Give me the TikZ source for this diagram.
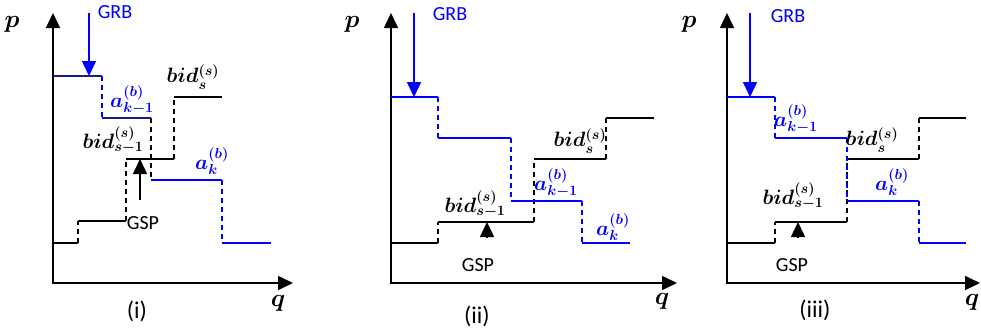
\documentclass[tikz,border=0pt]{standalone}
\usepackage{fontspec}
\newfontfamily\carl{Carlito}
\usetikzlibrary{arrows.meta}
\definecolor{navyb}{RGB}{25,25,150}
\begin{document}
\begin{tikzpicture}[x=1pt,y=-1pt,
  axes/.style={line width=1.6pt,{Triangle[length=15pt,width=14pt]}-{Triangle[length=15pt,width=14pt]}},
  garrow/.style={line width=1.5pt,-{Triangle[length=15pt,width=14pt]}},
  sl/.style={line width=1.5pt},
  dl/.style={line width=1.5pt,dash pattern=on 5pt off 4pt},
  lbl/.style={font=\boldmath\fontsize{21}{23}\selectfont,inner sep=0pt},
  axl/.style={font=\boldmath\fontsize{28}{30}\selectfont,inner sep=0pt},
  txt/.style={font=\carl\fontsize{20}{23}\selectfont,inner sep=0pt},
  captxt/.style={font=\carl\fontsize{24}{28}\selectfont,inner sep=0pt}]
\useasboundingbox (0,0) rectangle (981,333);

% ---------- panel (i) ----------
\draw[axes] (53,13) -- (53,283) -- (293,283);
\node[axl] (p1) at (12,24) {$p$};
\node[axl] (q1) at (278,303) {$q$};
\node[captxt] (c1) at (137,311) {(i)};
\node[txt,blue] (grb1) at (115,12) {GRB};
\node[txt] (gsp1) at (143,223) {GSP};
% black supply steps
\draw[sl] (53,243) -- (78,243);
\draw[dl] (78,243) -- (78,221);
\draw[sl] (78,221) -- (126,221);
\draw[dl] (126,221) -- (126,159);
\draw[sl] (126,159) -- (174,159);
\draw[dl] (174,159) -- (174,97);
\draw[sl] (174,97) -- (222,97);
% blue demand steps
\draw[sl,navyb] (53,76) -- (102,76);
\draw[dl,blue] (102,76) -- (102,118);
\draw[sl,navyb] (102,118) -- (151,118);
\draw[dl] (151,118) -- (151,180);
\draw[sl,blue] (151,180) -- (222,180);
\draw[dl,blue] (222,180) -- (222,243);
\draw[sl,blue] (222,243) -- (271,243);
\draw[garrow,blue] (89,13) -- (89,76);
\draw[garrow] (140,200) -- (140,159);
\node[lbl] (bs1) at (193,77) {$bid^{(s)}_{s}$};
\node[lbl,blue] (ak11) at (132,100) {$a^{(b)}_{k-1}$};
\node[lbl] (bs11) at (113,140) {$bid^{(s)}_{s-1}$};
\node[lbl,blue] (ak1) at (212,161) {$a^{(b)}_{k}$};

% ---------- panel (ii) ----------
\draw[axes] (391,13) -- (391,283) -- (677,283);
\node[axl] (p2) at (352,24) {$p$};
\node[axl] (q2) at (662,301) {$q$};
\node[captxt] (c2) at (477,316) {(ii)};
\node[txt,blue] (grb2) at (450,14) {GRB};
\node[txt] (gsp2) at (478,265) {GSP};
\draw[sl] (391,243) -- (438,243);
\draw[dl] (438,243) -- (438,222);
\draw[sl] (438,222) -- (534,222);
\draw[dl] (534,222) -- (534,159);
\draw[sl] (534,159) -- (606,159);
\draw[dl] (606,159) -- (606,118);
\draw[sl] (606,118) -- (654,118);
\draw[sl,blue] (391,97) -- (438,97);
\draw[dl,blue] (438,97) -- (438,138);
\draw[sl,blue] (438,138) -- (511,138);
\draw[dl,blue] (511,138) -- (511,201);
\draw[sl,blue] (511,201) -- (582,201);
\draw[dl,blue] (582,201) -- (582,243);
\draw[sl,blue] (582,243) -- (630,243);
\draw[garrow,blue] (414,13) -- (414,97);
\draw[garrow] (487,238) -- (487,222);
\node[lbl] (bs2) at (580,141) {$bid^{(s)}_{s}$};
\node[lbl,blue] (ak12) at (556,183) {$a^{(b)}_{k-1}$};
\node[lbl] (bs12) at (475,204) {$bid^{(s)}_{s-1}$};
\node[lbl,blue] (ak2) at (613,227) {$a^{(b)}_{k}$};

% ---------- panel (iii) ----------
\draw[axes] (727,13) -- (727,283) -- (980,283);
\node[axl] (p3) at (689,24) {$p$};
\node[axl] (q3) at (972,302) {$q$};
\node[captxt] (c3) at (815,310) {(iii)};
\node[txt,blue] (grb3) at (788,16) {GRB};
\node[txt] (gsp3) at (792,265) {GSP};
\draw[sl] (727,243) -- (775,243);
\draw[dl] (775,243) -- (775,222);
\draw[sl] (775,222) -- (847,222);
\draw[dl] (847,222) -- (847,159);
\draw[sl] (847,159) -- (919,159);
\draw[dl] (919,159) -- (919,118);
\draw[sl] (919,118) -- (966,118);
\draw[sl,blue] (727,97) -- (775,97);
\draw[dl,blue] (775,97) -- (775,138);
\draw[sl,blue] (775,138) -- (847,138);
\draw[dl,blue] (847,138) -- (847,201);
\draw[sl,blue] (847,201) -- (919,201);
\draw[dl,blue] (919,201) -- (919,243);
\draw[sl,blue] (919,243) -- (966,243);
\draw[garrow,blue] (750,13) -- (750,97);
\draw[garrow] (798,238) -- (798,222);
\node[lbl,blue] (ak13) at (796,119) {$a^{(b)}_{k-1}$};
\node[lbl] (bs3) at (872,140) {$bid^{(s)}_{s}$};
\node[lbl] (bs13) at (793,196) {$bid^{(s)}_{s-1}$};
\node[lbl,blue] (ak3) at (892,182) {$a^{(b)}_{k}$};
\end{tikzpicture}
\end{document}
